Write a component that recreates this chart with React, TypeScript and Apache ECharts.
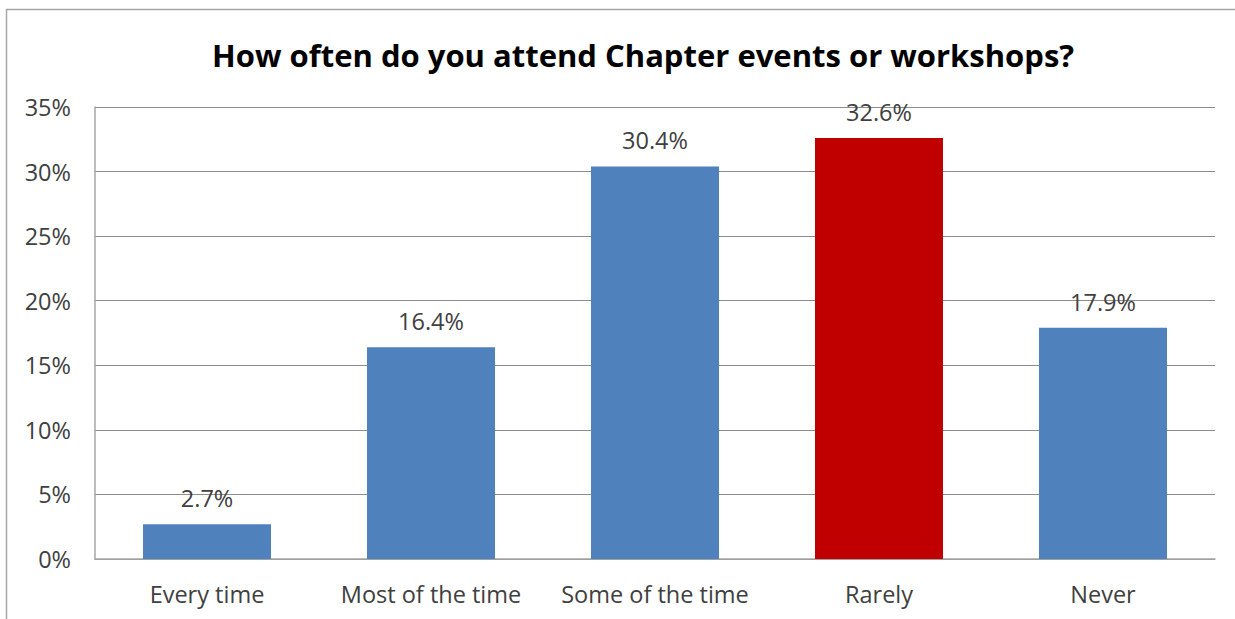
import React, { useEffect, useRef } from "react";
import * as echarts from "echarts";

const categories = ["Every time", "Most of the time", "Some of the time", "Rarely", "Never"];
const values = [2.7, 16.4, 30.4, 32.6, 17.9];
const barColors = ["#4f81bd", "#4f81bd", "#4f81bd", "#c00000", "#4f81bd"];
const title = "How often do you attend Chapter events or workshops?";

const FONT = "'Open Sans', Lato, 'Liberation Sans', sans-serif";

export default function App() {
  const ref = useRef<HTMLDivElement>(null);
  useEffect(() => {
    if (!ref.current) return;
    const chart = echarts.init(ref.current, null, { renderer: "svg" });
    chart.setOption({
      animation: false,
      backgroundColor: "#ffffff",
      textStyle: { fontFamily: FONT },
      title: {
        text: title,
        left: 207,
        top: 34,
        textStyle: { fontFamily: FONT, fontSize: 31, fontWeight: "bold", color: "#000000" },
      },
      graphic: [
        {
          type: "rect",
          shape: { x: 6.5, y: 9.5, width: 1250, height: 700 },
          style: { fill: "none", stroke: "#a6a6a6", lineWidth: 1.5 },
          silent: true,
        },
      ],
      grid: { left: 95, right: 20, top: 107, bottom: 60, containLabel: false },
      xAxis: {
        type: "category",
        data: categories,
        axisLine: { show: true, lineStyle: { color: "#a6a6a6", width: 1.5 } },
        axisTick: { show: false },
        axisLabel: { color: "#404040", fontSize: 23.5, fontFamily: FONT, margin: 23, interval: 0 },
      },
      yAxis: {
        type: "value",
        min: 0,
        max: 35,
        interval: 5,
        axisLine: { show: true, lineStyle: { color: "#a6a6a6", width: 1.5 } },
        axisTick: { show: false },
        splitLine: { show: true, lineStyle: { color: "#8c8c8c", width: 1 } },
        axisLabel: {
          color: "#404040",
          fontSize: 23.5,
          fontFamily: FONT,
          margin: 24,
          formatter: (v: number) => `${v}%`,
        },
      },
      series: [
        {
          type: "bar",
          data: values.map((v, i) => ({ value: v, itemStyle: { color: barColors[i] } })),
          barWidth: 128,
          label: {
            show: true,
            position: "top",
            distance: 14,
            color: "#404040",
            fontSize: 23.5,
            fontFamily: FONT,
            formatter: (p: any) => `${p.value.toFixed(1)}%`,
          },
        },
      ],
    });
    return () => chart.dispose();
  }, []);
  return (
    <div
      ref={ref}
      style={{ position: "fixed", left: 0, top: 0, width: 1235, height: 619 }}
    />
  );
}
